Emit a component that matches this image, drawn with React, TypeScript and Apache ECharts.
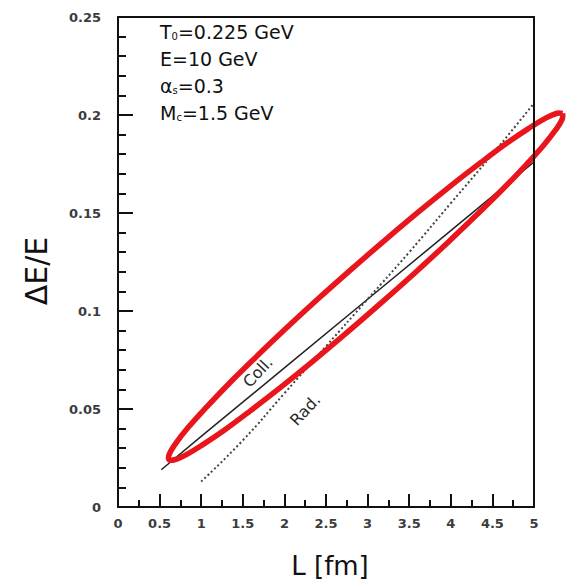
import React, { useEffect, useRef } from "react";
import * as echarts from "echarts";

// Collisional energy loss (solid line)
const collL = [0.52, 1, 2, 3, 4, 5];
const collDE = [0.019, 0.036, 0.071, 0.106, 0.141, 0.176];

// Radiative energy loss (dotted line)
const radL = [1, 1.5, 2, 2.5, 3, 3.5, 4, 4.5, 5];
const radDE = [0.013, 0.034, 0.058, 0.082, 0.106, 0.13, 0.155, 0.18, 0.206];

// Red contour
const ellipseL = [
  5.343, 5.339, 5.262, 5.116, 4.905, 4.635, 4.315, 3.955, 3.564, 3.156, 2.743, 2.337,
  1.95, 1.594, 1.281, 1.019, 0.816, 0.68, 0.613, 0.618, 0.694, 0.84, 1.052, 1.321,
  1.641, 2.001, 2.392, 2.8, 3.213, 3.619, 4.006, 4.362, 4.675, 4.937, 5.14, 5.276, 5.343,
];
const ellipseDE = [
  0.2008, 0.1979, 0.1925, 0.1846, 0.1746, 0.1626, 0.1492, 0.1346, 0.1193, 0.1039, 0.0887,
  0.0742, 0.0609, 0.0492, 0.0393, 0.0318, 0.0266, 0.0241, 0.0242, 0.0271, 0.0325, 0.0404,
  0.0504, 0.0624, 0.0758, 0.0904, 0.1057, 0.1211, 0.1363, 0.1508, 0.1641, 0.1758, 0.1857,
  0.1932, 0.1984, 0.2009, 0.2008,
];

// Curve labels, placed at data coordinates
const curveLabels = ["Coll.", "Rad."];
const curveLabelL = [1.68, 2.25];
const curveLabelDE = [0.0689, 0.0495];

// Parameter block
const paramMain = ["T", "E", "α", "M"];
const paramSub = ["0", "", "s", "c"];
const paramRest = ["=0.225 GeV", "=10 GeV", "=0.3", "=1.5 GeV"];

const xTickLabels = ["0", "0.5", "1", "1.5", "2", "2.5", "3", "3.5", "4", "4.5", "5"];
const yTickLabels = ["0", "0.05", "0.1", "0.15", "0.2", "0.25"];

const FONT = "DejaVu Sans";

function zip(a: number[], b: number[]) {
  return a.map((v, i) => [v, b[i]]);
}

export default function App() {
  const ref = useRef<HTMLDivElement>(null);

  useEffect(() => {
    const chart = echarts.init(ref.current!, null, { renderer: "svg" });
    const axisLine = { show: true, onZero: false, lineStyle: { color: "#111", width: 2 } };
    const labelStyle = { fontFamily: FONT, fontSize: 13, fontWeight: "bold" as const, color: "#3c3c3c" };
    chart.setOption({
      animation: false,
      backgroundColor: "#fff",
      grid: { left: 118, right: 36, top: 17, bottom: 75, show: false },
      xAxis: [
        {
          type: "value",
          min: 0,
          max: 5,
          interval: 0.5,
          axisLine,
          axisTick: { show: true, inside: true, length: 13, lineStyle: { color: "#111", width: 2 } },
          minorTick: { show: true, splitNumber: 2, length: 7, lineStyle: { color: "#111", width: 2 } },
          splitLine: { show: false },
          minorSplitLine: { show: false },
          axisLabel: {
            ...labelStyle,
            margin: 10,
            formatter: (v: number) => xTickLabels[Math.round(v / 0.5)] ?? "",
          },
          z: 5,
        },
        {
          type: "value",
          position: "top",
          min: 0,
          max: 5,
          axisLine,
          axisTick: { show: false },
          axisLabel: { show: false },
          splitLine: { show: false },
          z: 5,
        },
      ],
      yAxis: [
        {
          type: "value",
          min: 0,
          max: 0.25,
          interval: 0.05,
          axisLine,
          axisTick: { show: true, inside: true, length: 15, lineStyle: { color: "#111", width: 2 } },
          minorTick: { show: true, splitNumber: 5, length: 8, lineStyle: { color: "#111", width: 2 } },
          splitLine: { show: false },
          minorSplitLine: { show: false },
          axisLabel: {
            ...labelStyle,
            margin: 17,
            formatter: (v: number) => yTickLabels[Math.round(v / 0.05)] ?? "",
          },
          z: 5,
        },
        {
          type: "value",
          position: "right",
          min: 0,
          max: 0.25,
          axisLine,
          axisTick: { show: false },
          axisLabel: { show: false },
          splitLine: { show: false },
          z: 5,
        },
      ],
      series: [
        {
          name: "Coll.",
          type: "line",
          data: zip(collL, collDE),
          symbol: "none",
          lineStyle: { color: "#222", width: 1.5 },
          z: 2,
        },
        {
          name: "Rad.",
          type: "line",
          data: zip(radL, radDE),
          symbol: "none",
          smooth: true,
          lineStyle: { color: "#444", width: 2, type: [2, 2.5] },
          z: 2,
        },
        {
          name: "contour",
          type: "custom",
          coordinateSystem: "cartesian2d",
          clip: false,
          data: [[ellipseL[0], ellipseDE[0]]],
          renderItem: (_params: any, api: any) => {
            const pts = ellipseL.map((x, i) => api.coord([x, ellipseDE[i]]));
            return {
              type: "polyline",
              shape: { points: pts, smooth: 0.4 },
              style: { stroke: "#e8161c", lineWidth: 5.5, fill: null },
              z2: 3,
            };
          },
          z: 3,
        },
      ],
    });

    const labelGraphics = curveLabels.map((t, i) => {
      const p = chart.convertToPixel({ seriesIndex: 0 }, [curveLabelL[i], curveLabelDE[i]]) as number[];
      return {
        type: "text",
        x: p[0],
        y: p[1],
        rotation: (47 * Math.PI) / 180,
        style: {
          text: t,
          fontFamily: FONT,
          fontSize: 16,
          fill: "#2a2a2a",
          align: "center",
          verticalAlign: "middle",
        },
        z: 10,
      };
    });

    const paramGraphics = paramMain.map((m, i) => ({
      type: "text",
      x: 160,
      y: 21 + i * 27,
      style: {
        text: `{m|${m}}` + (paramSub[i] ? `{s|${paramSub[i]}}` : "") + `{m|${paramRest[i]}}`,
        rich: {
          m: { fontFamily: FONT, fontSize: 19, lineHeight: 20, fill: "#111", verticalAlign: "bottom" },
          s: { fontFamily: FONT, fontSize: 10, lineHeight: 3, fill: "#111", verticalAlign: "bottom" },
        },
        verticalAlign: "top",
        align: "left",
      },
      z: 10,
    }));

    chart.setOption({
      graphic: [
        ...labelGraphics,
        ...paramGraphics,
        {
          type: "text",
          x: 36,
          y: 271,
          rotation: Math.PI / 2,
          style: {
            text: "ΔE/E",
            fontFamily: FONT,
            fontSize: 30,
            fill: "#111",
            align: "center",
            verticalAlign: "middle",
          },
        },
        {
          type: "text",
          x: 330,
          y: 566,
          style: {
            text: "L [fm]",
            fontFamily: FONT,
            fontSize: 26,
            fill: "#111",
            align: "center",
            verticalAlign: "middle",
          },
        },
      ],
    });

    return () => chart.dispose();
  }, []);

  return (
    <div
      ref={ref}
      style={{ position: "absolute", left: 0, top: 0, width: 570, height: 582, background: "#fff" }}
    />
  );
}
